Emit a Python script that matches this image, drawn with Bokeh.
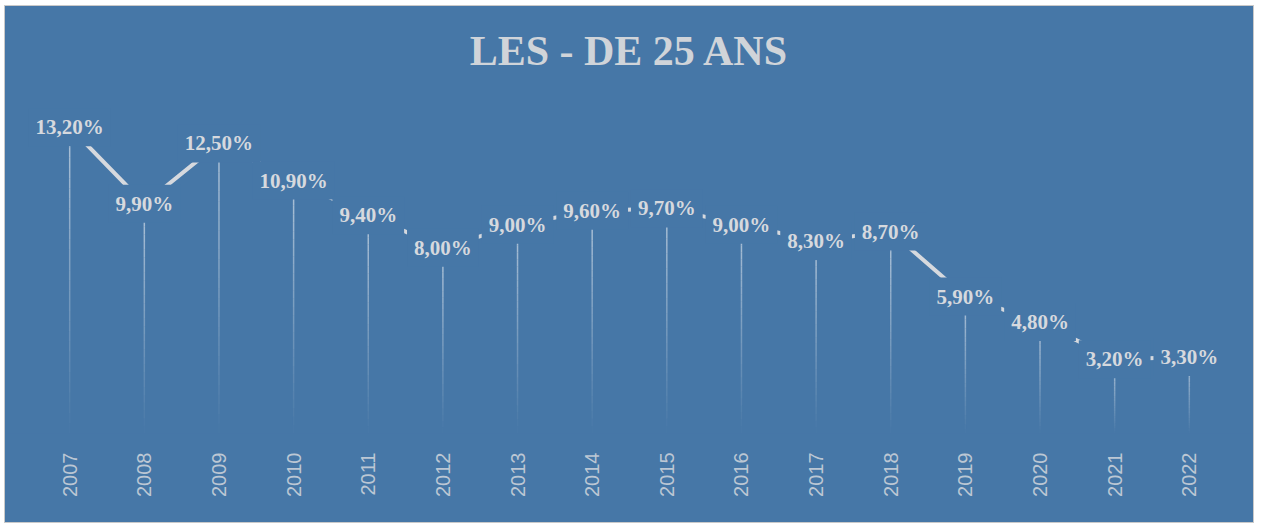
import math
from bokeh.plotting import figure
from bokeh.models import ColumnDataSource, Label, Range1d, FactorRange
from bokeh.core.properties import value
from bokeh.embed import file_html
from bokeh.resources import INLINE

# ---- data ----
years = ["2007", "2008", "2009", "2010", "2011", "2012", "2013", "2014",
         "2015", "2016", "2017", "2018", "2019", "2020", "2021", "2022"]
values = [13.2, 9.9, 12.5, 10.9, 9.4, 8.0, 9.0, 9.6, 9.7, 9.0, 8.3, 8.7, 5.9, 4.8, 3.2, 3.3]
title_text = "LES - DE 25 ANS"

labels = [f"{v:.2f}".replace(".", ",") + "%" for v in values]

# ---- style ----
BG = "#4677a7"
LIGHT = "#d6d9de"
AXIS_TXT = "#bcc7d4"

p = figure(width=1248, height=516,
           x_range=FactorRange(*years, range_padding=0.045),
           y_range=Range1d(0, 18.4),
           y_axis_location=None,
           output_backend="svg", toolbar_location=None,
           min_border_left=0, min_border_right=0,
           min_border_top=0, min_border_bottom=89)
p.margin = (6, 0, 0, 5)
p.styles = {"background-color": BG, "outline": "1px solid #c9c9c9"}

p.background_fill_color = BG
p.border_fill_color = BG
p.outline_line_color = None
p.xgrid.grid_line_color = None
p.ygrid.grid_line_color = None

# drop lines with a fading gradient (built as stacked segments)
N = 30
sx, sy0, sy1, sa = [], [], [], []
for yr, v in zip(years, values):
    for k in range(N):
        sx.append(yr)
        sy0.append(v * k / N)
        sy1.append(v * (k + 1) / N)
        sa.append(0.65 * (k + 0.5) / N)
seg_src = ColumnDataSource(dict(x=sx, y0=sy0, y1=sy1, a=sa))
p.segment(x0="x", y0="y0", x1="x", y1="y1", source=seg_src,
          line_color="#e8edf3", line_alpha="a", line_width=1.5)

src = ColumnDataSource(dict(x=years, y=values, label=labels))
p.line(x="x", y="y", source=src, line_color=LIGHT, line_width=4)

p.text(x="x", y="y", text="label", source=src,
       text_align="center", text_baseline="middle",
       text_font=value("Liberation Serif"), text_font_style="bold",
       text_font_size="21px", text_color=LIGHT,
       background_fill_color=BG, padding=7)

title = Label(x=8.0, y=16.5, text=title_text, text_align="center",
              text_baseline="middle", text_font="Liberation Serif",
              text_font_style="bold", text_font_size="42px",
              text_color="#d0d4d9")
p.add_layout(title)

ax = p.xaxis[0]
ax.axis_line_color = None
ax.major_tick_line_color = None
ax.minor_tick_line_color = None
ax.major_label_orientation = math.pi / 2
ax.major_label_standoff = 13
ax.major_label_text_font = "Liberation Sans"
ax.major_label_text_font_size = "20px"
ax.major_label_text_color = AXIS_TXT

open("out.html", "w").write(file_html(p, INLINE))
